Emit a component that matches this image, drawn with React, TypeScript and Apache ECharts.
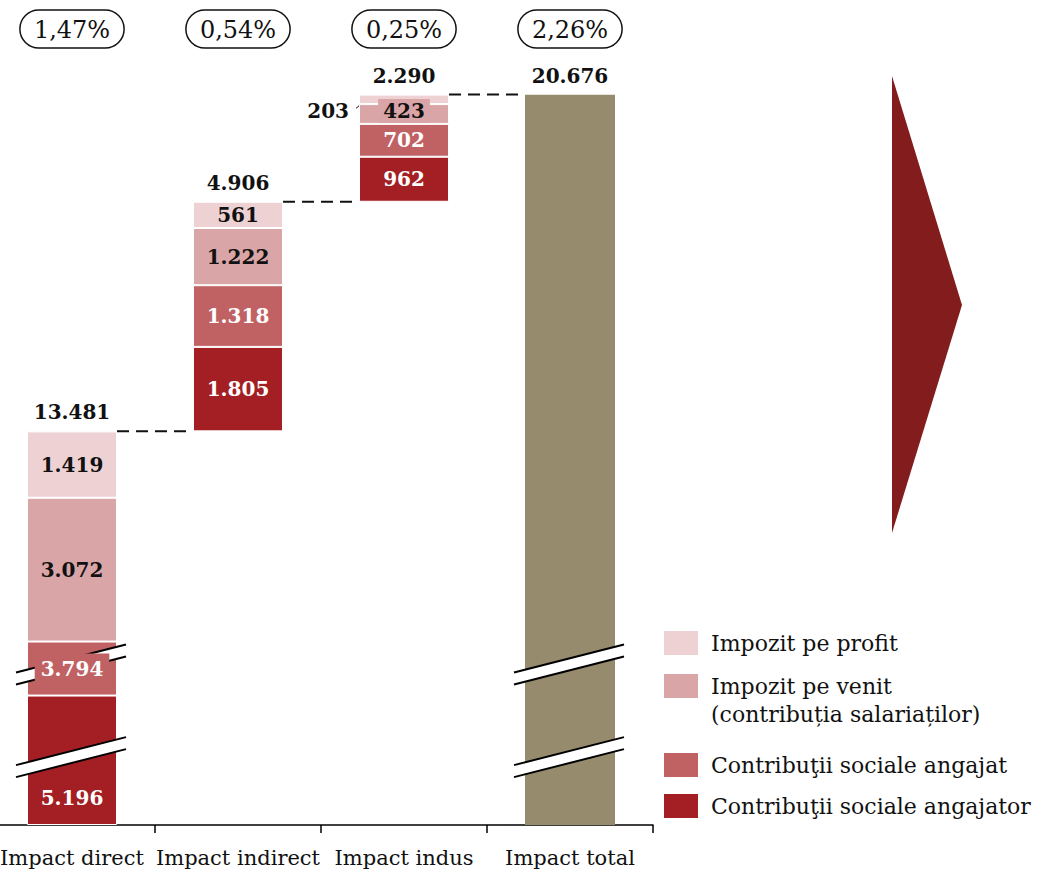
import React, { useEffect, useRef } from "react";
import * as echarts from "echarts";

// ---- data ----
const categories = ["Impact direct", "Impact indirect", "Impact indus", "Impact total"];
const percentLabels = ["1,47%", "0,54%", "0,25%", "2,26%"];
const contribAngajator = [5196, 1805, 962, null];
const contribAngajat = [3794, 1318, 702, null];
const impozitVenit = [3072, 1222, 423, null];
const impozitProfit = [1419, 561, 203, null];
const totalImpact = [null, null, null, 20676];
const seriesNames = [
  "Contribuţii sociale angajator",
  "Contribuţii sociale angajat",
  "Impozit pe venit (contribuția salariaților)",
  "Impozit pe profit",
];
const legendOrder = [3, 2, 1, 0];
const legendTexts = [
  "Contribuţii sociale angajator",
  "Contribuţii sociale angajat",
  "\nImpozit pe venit\n(contribuția salariaților)",
  "Impozit pe profit",
];
// broken value axis (the bars that cross the breaks)
const axisBreaks = [
  { start: 1330, end: 4000, gap: 240 },
  { start: 5740, end: 8620, gap: 240 },
];
const brokenBars = [0, 3];

// ---- styles ----
const FONT = "DejaVu Serif";
const colors = ["#A31F23", "#C06264", "#DAA5A6", "#EED2D3"];
const totalColor = "#978B6D";
const arrowColor = "#821C1D";
const labelColors = ["#fff", "#fff", "#111", "#111"];

const fmt = (n: number) => String(n).replace(/\B(?=(\d{3})+(?!\d))/g, ".");

const stacks = [contribAngajator, contribAngajat, impozitVenit, impozitProfit];
const stageTotals = [0, 1, 2].map((i) => stacks.reduce((s, a) => s + (a[i] as number), 0));
const bases: number[] = [];
stageTotals.reduce((acc, v, i) => {
  bases[i] = acc;
  return acc + v;
}, 0);
const tops = [0, 1, 2].map((i) => bases[i] + stageTotals[i]);
const topValues = [...tops, totalImpact[3] as number];
const topLabels = [...stageTotals, totalImpact[3] as number];

const labelOverrides: Record<string, any> = {
  "0-0": { offset: [0, 38] },
  "1-0": { backgroundColor: colors[1], padding: [5, 6] },
  "2-2": { backgroundColor: colors[2], padding: [2, 5], offset: [0, -3] },
  "3-2": { position: "left", distance: 10, offset: [0, 12] },
};

function buildOption() {
  const barSeries = stacks.map((arr, si) => ({
    name: seriesNames[si],
    type: "bar",
    stack: "w",
    barWidth: 90,
    z: 2,
    itemStyle: { color: colors[si], borderColor: "#fff", borderWidth: 1 },
    emphasis: { disabled: true },
    label: {
      show: true,
      position: "inside",
      color: labelColors[si],
      fontFamily: FONT,
      fontWeight: "bold",
      fontSize: 20,
      formatter: (p: any) => fmt(p.value),
    },
    data: arr.map((v, ci) => {
      if (v == null) return "-";
      const ov = labelOverrides[`${si}-${ci}`];
      return ov ? { value: v, label: ov } : v;
    }),
  }));

  return {
    animation: false,
    textStyle: { fontFamily: FONT },
    grid: { left: -11, right: 394, top: 60, bottom: 50, outerBoundsMode: "none" },
    xAxis: [
      {
        type: "category",
        data: categories,
        position: "bottom",
        axisLine: { show: true, lineStyle: { color: "#000", width: 1.5 } },
        axisTick: { show: true, length: 8, lineStyle: { color: "#000", width: 1.5 } },
        axisLabel: { interval: 0, margin: 22, fontSize: 21, color: "#111", fontFamily: FONT },
      },
      {
        type: "category",
        data: percentLabels,
        position: "top",
        axisLine: { show: false },
        axisTick: { show: false },
        axisLabel: {
          interval: 0,
          margin: 12,
          fontSize: 24,
          lineHeight: 24,
          color: "#111",
          fontFamily: FONT,
          borderColor: "#111",
          borderWidth: 1.5,
          borderRadius: 19,
          padding: [8, 14, 6, 14],
        },
      },
    ],
    yAxis: {
      type: "value",
      min: 0,
      max: 21416,
      axisLine: { show: false },
      axisTick: { show: false },
      axisLabel: { show: false },
      splitLine: { show: false },
      breaks: axisBreaks,
      breakArea: { show: false },
    },
    legend: legendOrder.map((si, k) => ({
      data: [seriesNames[si]],
      orient: "vertical",
      left: 662,
      top: [629, 644, 751, 792][k],
      padding: 0,
      itemWidth: 36,
      itemHeight: 26,
      icon: "rect",
      selectedMode: false,
      formatter: () => legendTexts[si],
      textStyle: { fontSize: 22, color: "#111", fontFamily: FONT, lineHeight: 28, padding: [0, 0, 0, 7] },
    })),
    graphic: [
      {
        type: "polygon",
        shape: { points: [[892, 76], [962, 305], [892, 533]] },
        style: { fill: arrowColor },
      },
    ],
    series: [
      {
        name: "base",
        type: "bar",
        stack: "w",
        barWidth: 90,
        silent: true,
        itemStyle: { color: "transparent" },
        emphasis: { disabled: true },
        data: [...bases, "-"],
      },
      ...barSeries,
      {
        name: "Impact total",
        type: "bar",
        stack: "w",
        barWidth: 90,
        itemStyle: { color: totalColor },
        emphasis: { disabled: true },
        data: totalImpact.map((v) => (v == null ? "-" : v)),
      },
      {
        name: "breakMarks",
        type: "custom",
        z: 2,
        silent: true,
        data: brokenBars.flatMap((c) => axisBreaks.map((b) => [c, (b.start + b.end) / 2])),
        renderItem: (params: any, api: any) => {
          const p = api.coord([api.value(0), api.value(1)]);
          const cx = p[0];
          const cy = p[1];
          const x1 = cx - 56;
          const x2 = cx + 54;
          const h = 6;
          return {
            type: "group",
            children: [
              {
                type: "polygon",
                z2: 1,
                shape: {
                  points: [
                    [x1, cy + 14 - h],
                    [x2, cy - 14 - h],
                    [x2, cy - 14 + h],
                    [x1, cy + 14 + h],
                  ],
                },
                style: { fill: "#fff" },
              },
              { type: "line", z2: 1, shape: { x1, y1: cy + 14 - h, x2, y2: cy - 14 - h }, style: { stroke: "#000", lineWidth: 2 } },
              { type: "line", z2: 1, shape: { x1, y1: cy + 14 + h, x2, y2: cy - 14 + h }, style: { stroke: "#000", lineWidth: 2 } },
            ],
          };
        },
      },
      {
        name: "connectors",
        type: "custom",
        silent: true,
        data: topValues.map((v, i) => [i, v, topLabels[i]]),
        renderItem: (params: any, api: any) => {
          const i = api.value(0);
          const v = api.value(1);
          const p = api.coord([i, v]);
          const children: any[] = [
            {
              type: "text",
              style: {
                x: p[0],
                y: p[1] - 19,
                text: fmt(api.value(2)),
                align: "center",
                verticalAlign: "middle",
                font: `bold 20px '${FONT}'`,
                fill: "#111",
              },
            },
          ];
          if (i < topValues.length - 1) {
            const q = api.coord([i + 1, v]);
            children.push({
              type: "line",
              shape: { x1: p[0] + 45, y1: p[1], x2: q[0] - 45, y2: p[1] },
              style: { stroke: "#111", lineWidth: 2, lineDash: [12, 7] },
            });
          }
          return { type: "group", children };
        },
      },
      {
        name: "leader",
        type: "custom",
        silent: true,
        data: [[2, bases[2] + stageTotals[2] - (impozitProfit[2] as number) / 2]],
        renderItem: (params: any, api: any) => {
          const p = api.coord([api.value(0), api.value(1)]);
          const left = p[0] - 45;
          return {
            type: "line",
            shape: { x1: left - 3, y1: p[1] + 9, x2: left + 10, y2: p[1] - 2 },
            style: { stroke: "#111", lineWidth: 1 },
          };
        },
      },
    ],
  };
}

export default function App() {
  const ref = useRef<HTMLDivElement>(null);
  useEffect(() => {
    if (!ref.current) return;
    const chart = echarts.init(ref.current, null, { renderer: "svg" });
    chart.setOption(buildOption() as any);
    return () => chart.dispose();
  }, []);
  return (
    <div
      ref={ref}
      style={{ position: "fixed", left: 0, top: 0, width: 1047, height: 875, background: "#fff" }}
    />
  );
}
